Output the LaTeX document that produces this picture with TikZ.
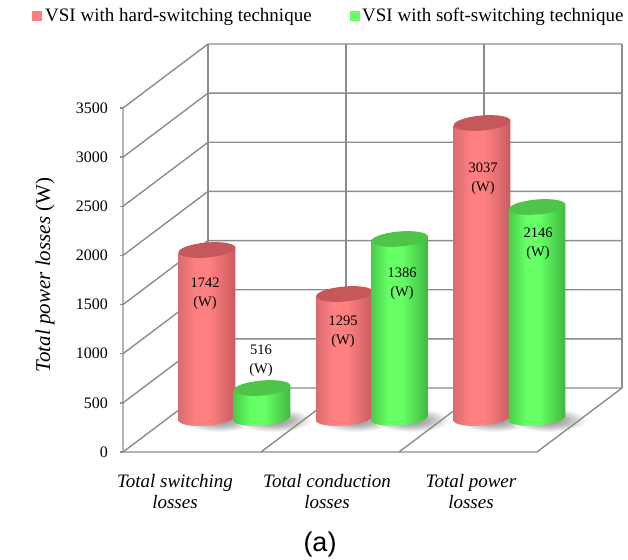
\documentclass[tikz,border=0pt]{standalone}
\usepackage{fontspec}
\setmainfont{Liberation Serif}
\newfontfamily\arialf{Liberation Sans}
\definecolor{gridc}{RGB}{140,140,140}
\definecolor{redA}{RGB}{218,108,112}
\definecolor{redB}{RGB}{255,128,128}
\definecolor{redC}{RGB}{200,92,96}
\definecolor{redT}{RGB}{198,88,92}
\definecolor{grnA}{RGB}{72,205,72}
\definecolor{grnB}{RGB}{102,255,102}
\definecolor{grnC}{RGB}{62,185,62}
\definecolor{grnT}{RGB}{78,196,72}
\definecolor{legR}{RGB}{255,127,127}
\definecolor{legG}{RGB}{102,255,102}
\pgfdeclarehorizontalshading{redcyl}{100bp}{color(0bp)=(redA); color(25bp)=(redA); color(40bp)=(redB); color(52bp)=(redB); color(75bp)=(redC); color(100bp)=(redC)}
\pgfdeclarehorizontalshading{grncyl}{100bp}{color(0bp)=(grnA); color(25bp)=(grnA); color(40bp)=(grnB); color(52bp)=(grnB); color(75bp)=(grnC); color(100bp)=(grnC)}
\pgfdeclareradialshading{shadowsh}{\pgfpoint{0bp}{0bp}}{color(0bp)=(black!45); color(12bp)=(black!28); color(25bp)=(white); color(50bp)=(white)}
\newcommand\barcyl[5]{%
  \path[shading=#4] ({#1-28.5*cos(5)},{#3-28.5*sin(5)}) -- ({#1-28.5*cos(5)},{#2-28.5*sin(5)})
    -- plot[domain=180:360,samples=40] ({#1+28.5*cos(\x)*cos(5)-7.5*sin(\x)*sin(5)},{#2+28.5*cos(\x)*sin(5)+7.5*sin(\x)*cos(5)})
    -- ({#1+28.5*cos(5)},{#3+28.5*sin(5)}) -- cycle;
  \fill[#5, rotate around={5:(#1,#3)}] (#1,#3) ellipse [x radius=28.5pt, y radius=7.5pt];
}
\begin{document}
\begin{tikzpicture}[x=1pt,y=1pt,
  gridl/.style={draw=gridc, line width=1.4pt},
  ticklab/.style={anchor=east, inner sep=0pt, font=\fontsize{16}{19}\selectfont},
  barlab/.style={align=center, inner sep=0pt, font=\fontsize{14.5}{19}\selectfont},
  catlab/.style={align=center, inner sep=0pt, font=\fontsize{19}{21}\selectfont\itshape},
  leglab/.style={anchor=base west, inner sep=0pt, font=\fontsize{19}{22}\selectfont}]
\useasboundingbox (0,0) rectangle (628,559);
% shadows
\foreach \cx in {207,262,344.5,399.5,482,537} {
  \shade[shading=shadowsh] (\cx+12,139) ellipse [x radius=38pt, y radius=12pt];
}
% back wall and left wall
\foreach \k in {0,...,7} {
  \draw[gridl] (123,{107+49.143*\k}) -- (208,{171+49.143*\k}) -- (622,{171+49.143*\k});
  \draw[gridl] (119.5,{107+49.143*\k}) -- (123,{107+49.143*\k});
}
\foreach \vx in {208,346,484,622} { \draw[gridl] (\vx,171) -- (\vx,515); }
% floor
\draw[gridl] (123,451) -- (123,107) -- (537,107) -- (622,171);
\draw[gridl] (261,107) -- (346,171);
\draw[gridl] (399,107) -- (484,171);
% tick labels
\foreach \k/\v in {0/0,1/500,2/1000,3/1500,4/2000,5/2500,6/3000,7/3500} {
  \node[ticklab] (t\k) at (108,{107+49.143*\k}) {\v};
}
% bars
\barcyl{207}{141}{309}{redcyl}{redT}
\barcyl{262}{141}{171}{grncyl}{grnT}
\barcyl{344.5}{141}{265}{redcyl}{redT}
\barcyl{399.5}{141}{320}{grncyl}{grnT}
\barcyl{482}{141}{436}{redcyl}{redT}
\barcyl{537}{141}{352}{grncyl}{grnT}
% bar labels
\node[barlab] (l1) at (205,265.5) {1742\\(W)};
\node[barlab] (l2) at (261,198) {516\\(W)};
\node[barlab] (l3) at (343,227) {1295\\(W)};
\node[barlab] (l4) at (402,275.5) {1386\\(W)};
\node[barlab] (l5) at (483,380.5) {3037\\(W)};
\node[barlab] (l6) at (538,315) {2146\\(W)};
% category labels
\node[catlab] (c1) at (175,67.5) {Total switching\\losses};
\node[catlab] (c2) at (327,67.5) {Total conduction\\losses};
\node[catlab] (c3) at (471,67.5) {Total power\\losses};
% axis title
\node[rotate=90, inner sep=0pt, font=\fontsize{21}{24}\selectfont] (yt) at (45,284) {\textit{Total power losses} (W)};
% legend
\fill[legR] (32,538) rectangle (42,548);
\node[leglab] (lg1) at (45,537) {VSI with hard-switching technique};
\fill[legG] (350,538) rectangle (360,548);
\node[leglab] (lg2) at (362,537) {VSI with soft-switching technique};
% caption
\node[inner sep=0pt, font=\arialf\fontsize{27}{30}\selectfont] (cap) at (320,14) {(a)};
\end{tikzpicture}
\end{document}
